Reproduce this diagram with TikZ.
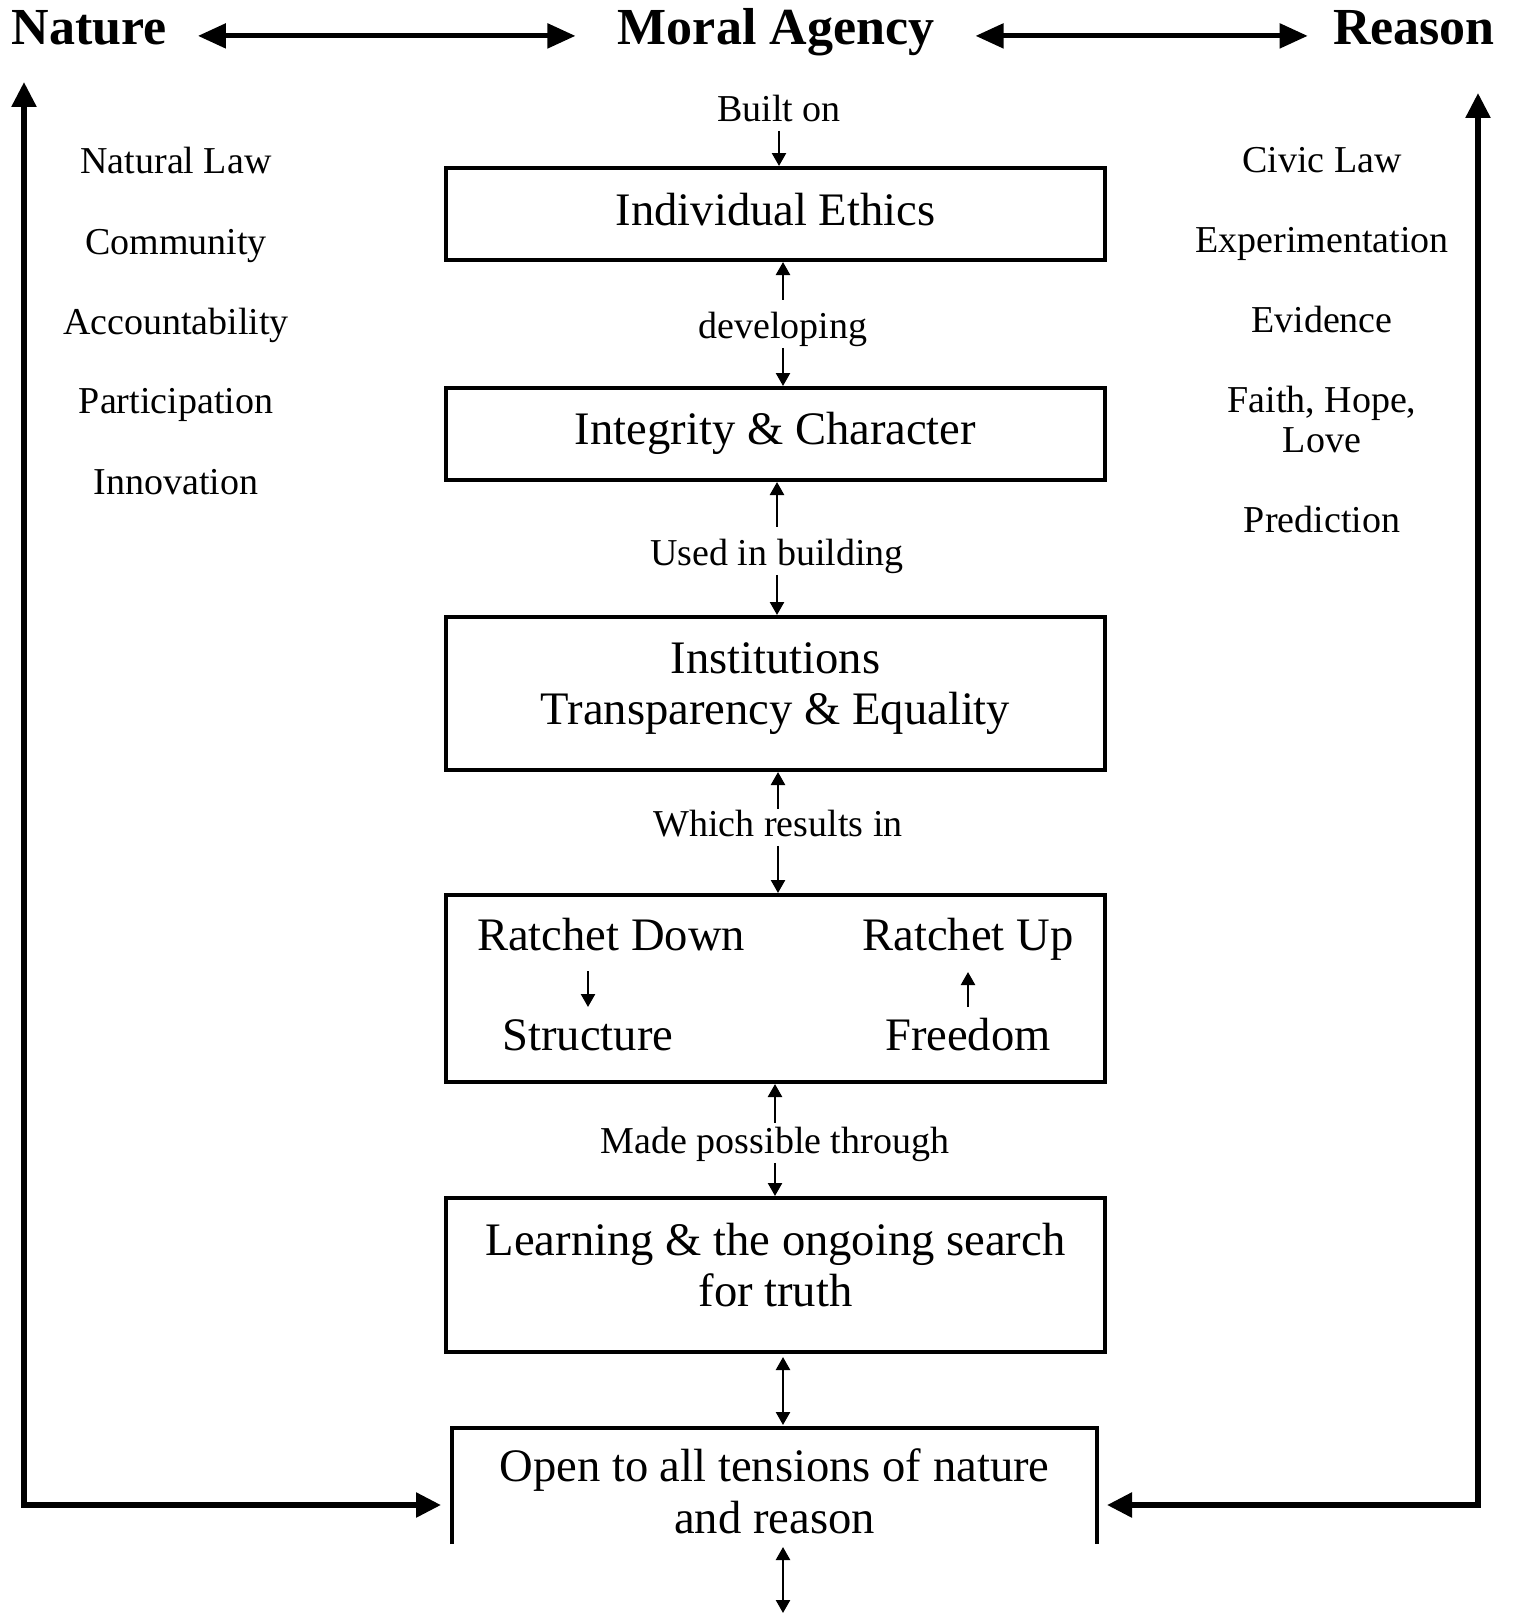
\documentclass[tikz,border=0pt]{standalone}
\usepackage{fontspec}
\setmainfont{Liberation Serif}
\usepackage{tikz}
\usetikzlibrary{arrows.meta}

\begin{document}
\begin{tikzpicture}[%
    x=0.5pt,
    y=-0.5pt,
    headline/.style={%
      anchor=base,
      inner sep=0pt,
      text height=18.2pt,
      text depth=9.1pt,
      font=\fontsize{26}{30}\selectfont\bfseries
    },
    topic/.style={%
      anchor=base,
      align=center,
      inner sep=0pt,
      font=\fontsize{19}{20}\selectfont
    },
    caption/.style={%
      anchor=base,
      inner sep=0pt,
      text height=19pt,
      text depth=4.75pt,
      font=\fontsize{19}{20}\selectfont
    },
    stage/.style={%
      draw,
      line width=2pt,
      minimum width=329.5pt,
      inner sep=0pt,
      align=center,
      font=\fontsize{23.3}{25.8}\selectfont,
      execute at end node={\rule[-#1]{0pt}{#1}}
    },
    stage/.default=10pt,
    inbox/.style={%
      anchor=base,
      inner sep=0pt,
      text height=19.8pt,
      text depth=9.3pt,
      font=\fontsize{23.3}{25.8}\selectfont
    },
    link/.style={%
      line width=1.2pt,
      >={Triangle[length=6.5pt,width=7pt]}
    },
    headlink/.style={%
      line width=2.5pt,
      >={Triangle[length=14pt,width=12pt]}
    },
    sidelink/.style={%
      line width=2.75pt,
      >={Triangle[length=12.5pt,width=12pt]}
    }
  ]
    \useasboundingbox (0,0) rectangle (1517,1616);

    \node[headline] (nature) at (89,45)   {Nature};
    \node[headline] (moral)  at (776,45)  {Moral Agency};
    \node[headline] (reason) at (1414,45) {Reason};

    \path (nature) edge [headlink, <->, shorten <=15.5pt, shorten >=21pt]   (moral)
          (moral)  edge [headlink, <->, shorten <=20.5pt, shorten >=12.5pt] (reason);

    \node[topic] (natlaw)  at (176,173) {Natural Law};
    \node[topic] (commun)  at (176,254) {Community};
    \node[topic] (account) at (176,334) {Accountability};
    \node[topic] (partic)  at (176,413) {Participation};
    \node[topic] (innov)   at (176,494) {Innovation};

    \node[topic] (civlaw)  at (1322,172) {Civic Law};
    \node[topic] (experim) at (1322,252) {Experimentation};
    \node[topic] (evid)    at (1322,332) {Evidence};
    \node[topic] (faith)   at (1322,452) {Faith, Hope,\\Love};
    \node[topic] (predict) at (1322,532) {Prediction};

    \node[stage=5pt, minimum height=46pt]   (ethics)       at (775.5,214)   {Individual Ethics};
    \node[stage=6pt, minimum height=46pt]   (integrity)    at (775.5,434)   {Integrity \& Character};
    \node[stage, minimum height=76.5pt] (institutions) at (775.5,693.5) {Institutions\\Transparency \& Equality};
    \node[stage, minimum height=93.5pt] (ratchet)      at (775.5,988.5) {};
    \node[stage, minimum height=77pt]   (learning)     at (775.5,1275)  {Learning \& the ongoing search\\for truth};
    \node[stage=0pt, draw=none, outer sep=0pt, minimum width=322.5pt, minimum height=58pt] (open) at (774.5,1486)
      {\rule{0pt}{22pt}Open to all tensions of nature\\and reason};
    \draw[line width=2pt] (open.south west) |- (open.north east) -- (open.south east);

    \node[caption] (builton)  at (779,121)  {Built on};
    \node[caption] (develop)  at (783,338)  {developing};
    \node[caption] (usedin)   at (777,565)  {Used in building};
    \node[caption] (results)  at (778,836)  {Which results in};
    \node[caption] (possible) at (775,1153) {Made possible through};

    \node[inbox] (rdown)     at (611,950)  {Ratchet Down};
    \node[inbox] (rup)       at (968,950)  {Ratchet Up};
    \node[inbox] (structure) at (588,1050) {Structure};
    \node[inbox] (freedom)   at (968,1050) {Freedom};

    \draw[link, ->] (builton.south) -- (builton.south |- ethics.north);
    \draw[link, ->] (develop.north) -- (develop.north |- ethics.south);
    \draw[link, ->] (develop.south) -- (develop.south |- integrity.north);
    \draw[link, ->] (usedin.north) -- (usedin.north |- integrity.south);
    \draw[link, ->] (usedin.south) -- (usedin.south |- institutions.north);
    \draw[link, ->, shorten <=-5.5pt] (results.north) -- (results.north |- institutions.south);
    \draw[link, ->] (results.south) -- (results.south |- ratchet.north);
    \draw[link, ->, shorten <=-4pt] (possible.north) -- (possible.north |- ratchet.south);
    \draw[link, ->] (possible.south) -- (possible.south |- learning.north);
    \draw[link, ->, shorten <=1pt, shorten >=1.5pt] (structure.north |- rdown.south) -- (structure.north);
    \draw[link, ->, shorten <=1.5pt, shorten >=1.5pt] (freedom.north) -- (freedom.north |- rup.south);

    \coordinate (lowend) at (783,1613);
    \draw[link, <->, shorten <=1.5pt, shorten >=1.5pt] (lowend |- learning.south) -- (lowend |- open.north);
    \draw[link, <->, shorten <=1.5pt] (lowend |- open.south) -- (lowend);

    \coordinate (natend)    at (24,82);
    \coordinate (natcorner) at (24,1505);
    \coordinate (reaend)    at (1478,93);
    \coordinate (reacorner) at (1478,1505);
    \draw[sidelink, <->, shorten >=5.5pt] (natend) -- (natcorner) -- (open.west |- natcorner);
    \draw[sidelink, <->, shorten >=5pt]   (reaend) -- (reacorner) -- (open.east |- reacorner);
  \end{tikzpicture}
\end{document}
